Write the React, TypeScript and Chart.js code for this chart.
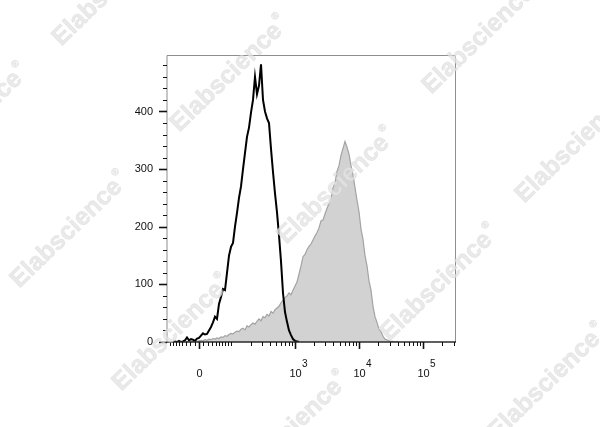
import React, { useEffect, useRef } from "react";
import { Chart, registerables } from "chart.js";

Chart.register(...registerables);

// ---- data (x in display channels of the biexponential axis, y = cell count) ----
const CHANNEL_STEP = 2;

const UNSTAINED_START = -28;
const UNSTAINED_COUNTS = [
  0, 0, 1, 0, 2, 0, 1, 3, 8, 3, 5, 4, 2, 6, 7, 11, 15, 13, 14, 20,
  26, 34, 44, 40, 66, 78, 92, 90, 120, 150, 165, 172, 200, 224, 250, 270, 300, 328, 356, 372,
  398, 420, 460, 430, 445, 482, 420, 400, 388, 380, 335, 295, 258, 225, 185, 140, 85, 52, 35, 20,
  12, 5, 2, 1, 0,
];

const STAINED_START = -14;
const STAINED_COUNTS = [
  0, 1, 0, 2, 1, 2, 1, 2, 3, 2, 4, 3, 5, 4, 6, 5, 7, 6, 9, 8,
  11, 10, 13, 15, 14, 17, 19, 18, 22, 24, 21, 28, 26, 30, 33, 31, 36, 40, 37, 44,
  42, 48, 45, 53, 50, 56, 59, 62, 68, 72, 77, 80, 85, 82, 90, 97, 104, 118, 132, 148,
  152, 160, 166, 170, 177, 184, 190, 198, 210, 212, 222, 232, 240, 248, 268, 276, 296, 306, 324, 336,
  348, 338, 326, 306, 290, 268, 246, 226, 196, 178, 150, 132, 106, 90, 62, 44, 34, 22, 18, 10,
  5, 4, 2, 1, 1, 0, 1, 0,
];

// ---- axes ----
const Y_MAX = 498;
const Y_MAJOR_TICKS = [0, 100, 200, 300, 400];
const Y_MINOR_STEP = 20;

const X_MAJOR_VALUES = [0, 1000, 10000, 100000];
const X_LABEL_BASES = ["0", "10", "10", "10"];
const X_LABEL_EXPONENTS = ["", "3", "4", "5"];
const X_MINOR_VALUES: number[] = [];
for (let k = 1; k <= 8; k++) X_MINOR_VALUES.push(-10 * k);
for (let k = 1; k <= 9; k++) X_MINOR_VALUES.push(10 * k);
for (const dec of [100, 1000, 10000, 100000]) {
  for (let k = 2; k <= 9; k++) X_MINOR_VALUES.push(dec * k);
}

// biexponential-like display transform (value -> channel)
const BIEX_SCALE = 27.8;
const BIEX_WIDTH = 63.4;
const toChannel = (v: number) => BIEX_SCALE * Math.asinh(v / BIEX_WIDTH);

const X_MIN = -32;
const X_MAX = 257;

const WATERMARK_TEXT = "Elabscience";
const WATERMARKS: [number, number][] = [
  [112, -12],
  [230, 74],
  [482, 36],
  [-30, 122],
  [337, 186],
  [575, 145],
  [70, 230],
  [440, 283],
  [172, 333],
  [290, 430],
  [548, 382],
];

const FONT = "'Liberation Sans', Arial, Helvetica, sans-serif";

const flowPlugin = {
  id: "flowAxes",
  afterDatasetsDraw(chart: any) {
    const { ctx, chartArea } = chart;
    const { left, right, top, bottom } = chartArea;
    const xs = chart.scales.x;
    const ys = chart.scales.y;
    ctx.save();
    // frame
    ctx.strokeStyle = "#8e8e8e";
    ctx.lineWidth = 1;
    ctx.beginPath();
    ctx.moveTo(left, bottom);
    ctx.lineTo(left, top + 0.5);
    ctx.lineTo(right - 0.5, top + 0.5);
    ctx.lineTo(right - 0.5, bottom);
    ctx.stroke();
    // bottom axis line
    ctx.strokeStyle = "#2a2a2a";
    ctx.lineWidth = 1.5;
    ctx.beginPath();
    ctx.moveTo(left, bottom);
    ctx.lineTo(right, bottom);
    ctx.stroke();

    // y ticks
    ctx.strokeStyle = "#111";
    for (let v = 0; v <= Y_MAX; v += Y_MINOR_STEP) {
      const y = Math.round(ys.getPixelForValue(v)) + 0.5;
      const major = Y_MAJOR_TICKS.includes(v);
      ctx.lineWidth = major ? 1.6 : 1;
      ctx.beginPath();
      ctx.moveTo(left - (major ? 8 : 4), y);
      ctx.lineTo(left, y);
      ctx.stroke();
    }
    // x ticks
    for (const v of X_MINOR_VALUES) {
      const c = toChannel(v);
      if (c < X_MIN || c > X_MAX) continue;
      const x = Math.round(xs.getPixelForValue(c)) + 0.5;
      ctx.lineWidth = 1;
      ctx.beginPath();
      ctx.moveTo(x, bottom);
      ctx.lineTo(x, bottom + 4);
      ctx.stroke();
    }
    X_MAJOR_VALUES.forEach((v, i) => {
      const x = Math.round(xs.getPixelForValue(toChannel(v))) + 0.5;
      ctx.lineWidth = 1.6;
      ctx.beginPath();
      ctx.moveTo(x, bottom);
      ctx.lineTo(x, bottom + 7);
      ctx.stroke();
      // labels
      ctx.fillStyle = "#111";
      ctx.font = `11px ${FONT}`;
      ctx.textAlign = "center";
      ctx.textBaseline = "alphabetic";
      const base = X_LABEL_BASES[i];
      ctx.fillText(base, x, bottom + 35);
      const exp = X_LABEL_EXPONENTS[i];
      if (exp) {
        const w = ctx.measureText(base).width;
        ctx.font = `10px ${FONT}`;
        ctx.textAlign = "left";
        ctx.fillText(exp, x + w / 2 + 0.5, bottom + 25);
      }
    });
    ctx.restore();
  },
  afterDraw(chart: any) {
    const { ctx } = chart;
    ctx.save();
    for (const [cx, cy] of WATERMARKS) {
      ctx.save();
      ctx.translate(cx, cy);
      ctx.rotate((-44 * Math.PI) / 180);
      ctx.font = `bold 25px ${FONT}`;
      const w = ctx.measureText(WATERMARK_TEXT).width;
      ctx.fillStyle = "rgba(228,228,228,0.78)";
      ctx.strokeStyle = "rgba(205,205,205,0.35)";
      ctx.lineWidth = 0.8;
      ctx.textAlign = "left";
      ctx.textBaseline = "middle";
      ctx.fillText(WATERMARK_TEXT, -w / 2 - 5, 0);
      ctx.strokeText(WATERMARK_TEXT, -w / 2 - 5, 0);
      ctx.font = `10px ${FONT}`;
      ctx.fillText("®", w / 2 - 3, -10);
      ctx.strokeText("®", w / 2 - 3, -10);
      ctx.restore();
    }
    ctx.restore();
  },
};

export default function App() {
  const canvasRef = useRef<HTMLCanvasElement | null>(null);

  useEffect(() => {
    if (!canvasRef.current) return;
    const unstained = UNSTAINED_COUNTS.map((c, i) => ({ x: UNSTAINED_START + i * CHANNEL_STEP, y: c }));
    const stained = STAINED_COUNTS.map((c, i) => ({ x: STAINED_START + i * CHANNEL_STEP, y: c }));
    const chart = new Chart(canvasRef.current, {
      type: "line",
      data: {
        datasets: [
          {
            label: "Isotype",
            data: unstained,
            borderColor: "#000000",
            borderWidth: 2,
            pointRadius: 0,
            fill: false,
            tension: 0,
          },
          {
            label: "Stained",
            data: stained,
            borderColor: "#a3a3a3",
            backgroundColor: "#d2d2d2",
            borderWidth: 1.2,
            pointRadius: 0,
            fill: "origin",
            tension: 0,
          },
        ],
      },
      options: {
        responsive: false,
        animation: false,
        events: [],
        layout: { padding: { left: 127, right: 144, top: 55, bottom: 85 } },
        plugins: { legend: { display: false }, tooltip: { enabled: false } },
        scales: {
          x: { type: "linear", display: false, min: X_MIN, max: X_MAX },
          y: {
            min: 0,
            max: Y_MAX,
            afterBuildTicks: (s: any) => {
              s.ticks = Y_MAJOR_TICKS.map((v) => ({ value: v }));
            },
            afterFit: (s: any) => {
              s.width = 40;
            },
            grid: { display: false, drawTicks: false },
            border: { display: false },
            ticks: { padding: 14, color: "#111", font: { family: FONT, size: 11 } },
          },
        },
      },
      plugins: [flowPlugin],
    });
    return () => chart.destroy();
  }, []);

  return (
    <div style={{ position: "fixed", left: 0, top: 0, width: 600, height: 427, background: "#fff" }}>
      <canvas ref={canvasRef} width={600} height={427} style={{ display: "block" }} />
    </div>
  );
}
